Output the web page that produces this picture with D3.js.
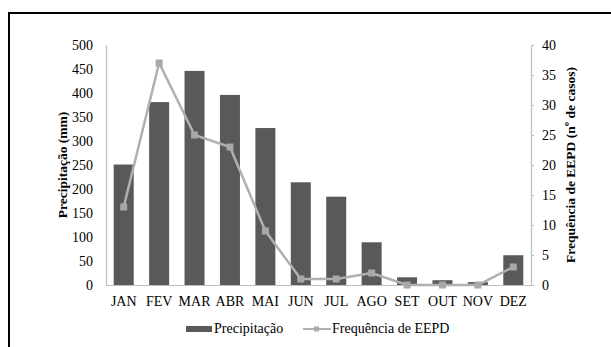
<!DOCTYPE html>
<html>
<head>
<meta charset="utf-8">
<script src="https://cdn.jsdelivr.net/npm/d3@7"></script>
<style>
  body { margin: 0; background: #fff; }
  svg text { font-family: 'Liberation Serif', 'DejaVu Serif', serif; }
</style>
</head>
<body>
<script>
// data
const months = ['JAN', 'FEV', 'MAR', 'ABR', 'MAI', 'JUN', 'JUL', 'AGO', 'SET', 'OUT', 'NOV', 'DEZ'];
const precip = [251, 381, 446, 396, 327, 214, 184, 89, 16, 10, 6, 62];
const eepd = [13, 37, 25, 23, 9, 1, 1, 2, 0, 0, 0, 3];
const precipTicks = d3.range(0, 501, 50);
const eepdTicks = d3.range(0, 41, 5);

const draw = () => {
    const width = 611, height = 347;
    const left = 106, right = 531, top = 45, bottom = 285;
    const barColor = '#595959', lineColor = '#b0b0b0', axisColor = '#bfbfbf';
    const serif = "'Liberation Serif', 'DejaVu Serif', serif";

    const svg = d3.select('body').append('svg')
        .attr('width', width)
        .attr('height', height)
        .attr('font-family', serif);

    // frame (cut off at right and bottom)
    svg.append('path')
        .attr('d', `M9,${height + 5}V13H${width + 5}`)
        .attr('fill', 'none')
        .attr('stroke', '#000')
        .attr('stroke-width', 2);

    const x = d3.scaleBand().domain(months).range([left, right]).paddingInner(0.435).paddingOuter(0.2175);
    const y = d3.scaleLinear().domain([0, 500]).range([bottom, top]);
    const y2 = d3.scaleLinear().domain([0, 40]).range([bottom, top]);

    // bars
    svg.append('g')
        .selectAll('rect')
        .data(precip)
        .enter().append('rect')
        .attr('x', (d, i) => x(months[i]))
        .attr('y', d => y(d))
        .attr('width', x.bandwidth())
        .attr('height', d => y(0) - y(d))
        .attr('fill', barColor);

    // axes
    const styleAxis = (g) => {
        g.attr('font-family', serif);
        g.selectAll('.domain').attr('stroke', axisColor).attr('stroke-width', 1.2);
        g.selectAll('.tick line').attr('stroke', axisColor);
        g.selectAll('text').attr('fill', '#000').attr('font-size', 14).attr('font-family', serif);
    };

    svg.append('g')
        .attr('transform', `translate(0,${bottom})`)
        .call(d3.axisBottom(x).tickSize(0).tickPadding(11).tickSizeOuter(0))
        .call(styleAxis);

    svg.append('g')
        .attr('transform', `translate(${left},0)`)
        .call(d3.axisLeft(y).tickValues(precipTicks).tickSize(0).tickPadding(13))
        .call(styleAxis);

    svg.append('g')
        .attr('transform', `translate(${right},0)`)
        .call(d3.axisRight(y2).tickValues(eepdTicks).tickSize(3).tickPadding(8).tickSizeOuter(3))
        .call(styleAxis);

    // line series
    const cx = (i) => x(months[i]) + x.bandwidth() / 2;
    const line = d3.line()
        .x((d, i) => cx(i))
        .y(d => y2(d));

    svg.append('path')
        .attr('d', line(eepd))
        .attr('fill', 'none')
        .attr('stroke', lineColor)
        .attr('stroke-width', 2.5);

    svg.append('g')
        .selectAll('rect')
        .data(eepd)
        .enter().append('rect')
        .attr('x', (d, i) => cx(i) - 3.5)
        .attr('y', d => y2(d) - 3.5)
        .attr('width', 7)
        .attr('height', 7)
        .attr('fill', '#a8a8a8');

    // axis titles
    svg.append('text')
        .attr('transform', `translate(67,${(top + bottom) / 2}) rotate(-90)`)
        .attr('text-anchor', 'middle')
        .attr('font-size', 13.5)
        .attr('font-weight', 'bold')
        .text('Precipitação (mm)');

    svg.append('text')
        .attr('transform', `translate(575,${(top + bottom) / 2}) rotate(-90)`)
        .attr('text-anchor', 'middle')
        .attr('font-size', 13.5)
        .attr('font-weight', 'bold')
        .text('Frequência de EEPD (nº de casos)');

    // legend
    const legend = svg.append('g').attr('font-size', 14);
    legend.append('rect')
        .attr('x', 186).attr('y', 326)
        .attr('width', 26).attr('height', 6)
        .attr('fill', barColor);
    legend.append('text')
        .attr('x', 214).attr('y', 333)
        .text('Precipitação');
    legend.append('line')
        .attr('x1', 303).attr('x2', 331)
        .attr('y1', 329).attr('y2', 329)
        .attr('stroke', lineColor)
        .attr('stroke-width', 2);
    legend.append('rect')
        .attr('x', 314).attr('y', 326.5)
        .attr('width', 5).attr('height', 5)
        .attr('fill', '#a8a8a8');
    legend.append('text')
        .attr('x', 332).attr('y', 333)
        .text('Frequência de EEPD');
};

draw();
</script>
</body>
</html>
